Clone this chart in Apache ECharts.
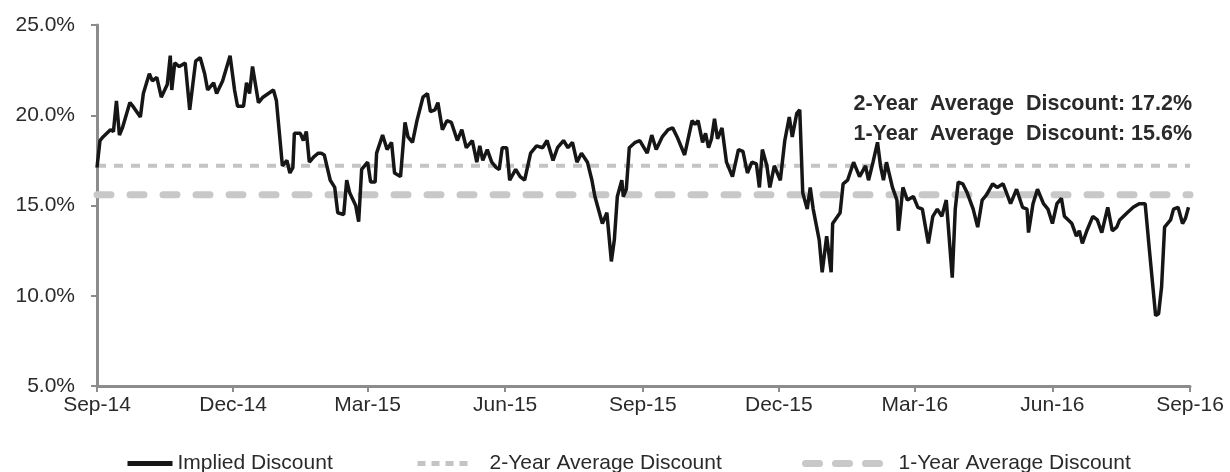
<!DOCTYPE html>
<html>
<head>
<meta charset="utf-8">
<script src="https://cdn.jsdelivr.net/npm/echarts@6/dist/echarts.min.js"></script>
<style>
  html, body { margin: 0; padding: 0; background: #fff; }
  #chart { width: 1230px; height: 472px; }
</style>
</head>
<body>
<div id="chart"></div>
<script>
// days counted from 2014-09-01
const dayOffsets = [
  0, 2, 4, 9, 11, 13, 15, 17, 22, 24, 29, 31, 35, 37, 40, 43, 47, 49, 50, 52,
  55, 59, 62, 66, 69, 72, 74, 78, 80, 84, 89, 92, 94, 98, 100, 102, 104, 107, 108, 111,
  118, 120, 124, 127, 129, 131, 132, 136, 138, 140, 142, 145, 148, 150, 152, 156, 159, 161, 165, 167,
  169, 173, 175, 177, 181, 183, 186, 187, 191, 194, 197, 199, 203, 206, 208, 211, 214, 218, 221, 223,
  226, 228, 231, 234, 237, 241, 244, 247, 251, 254, 256, 258, 261, 264, 267, 269, 271, 274, 276, 280,
  283, 286, 290, 294, 298, 301, 305, 308, 312, 315, 318, 321, 324, 328, 331, 333, 336, 338, 341, 344,
  346, 348, 351, 352, 354, 356, 360, 363, 368, 371, 374, 378, 382, 385, 388, 393, 398, 400, 402, 405,
  407, 409, 411, 413, 415, 418, 421, 425, 429, 432, 435, 438, 441, 443, 445, 448, 450, 453, 457, 460,
  463, 465, 468, 470, 472, 475, 477, 479, 483, 485, 488, 491, 492, 497, 499, 502, 506, 507, 510, 514,
  516, 519, 522, 524, 526, 528, 532, 535, 536, 539, 542, 546, 549, 552, 556, 559, 562, 565, 568, 572,
  574, 576, 579, 582, 586, 589, 592, 595, 599, 602, 606, 611, 615, 619, 622, 623, 626, 629, 633, 636,
  639, 642, 645, 647, 652, 655, 657, 659, 662, 666, 669, 672, 674, 676, 679, 682, 684, 689, 693, 697,
  701, 704, 708, 710, 712, 714, 718, 720, 723, 726, 728, 730
];
const impliedDiscount = [
  17.1, 18.6, 18.8, 19.2, 19.1, 20.8, 18.9, 19.3, 20.7, 20.5, 19.9, 21.2, 22.3, 21.9, 22.1, 21.0, 21.7, 23.3, 21.4, 22.9,
  22.7, 22.9, 20.3, 23.0, 23.2, 22.3, 21.4, 21.8, 21.2, 21.9, 23.3, 21.4, 20.5, 20.5, 21.8, 21.2, 22.7, 21.2, 20.7, 21.0,
  21.4, 20.8, 17.2, 17.5, 16.8, 17.1, 19.0, 19.0, 18.6, 19.1, 17.4, 17.7, 17.9, 17.9, 17.8, 16.4, 16.0, 14.6, 14.5, 16.4,
  15.7, 15.0, 14.1, 17.0, 17.4, 16.3, 16.3, 17.9, 18.9, 18.1, 18.5, 16.8, 16.6, 19.6, 18.8, 18.5, 19.7, 21.0, 21.2, 20.2,
  20.3, 20.7, 19.2, 19.7, 19.6, 18.6, 19.2, 18.2, 18.6, 17.4, 18.3, 17.5, 18.1, 17.4, 17.1, 17.0, 18.2, 18.2, 16.4, 17.0,
  16.6, 16.4, 17.9, 18.3, 18.2, 18.6, 17.5, 18.2, 18.6, 18.2, 18.5, 17.4, 17.9, 17.4, 16.4, 15.5, 14.6, 14.0, 14.6, 11.9,
  13.1, 15.5, 16.4, 15.5, 15.9, 18.2, 18.5, 18.6, 17.9, 18.9, 18.1, 18.8, 19.2, 19.3, 18.8, 17.8, 19.7, 19.5, 19.7, 18.5,
  19.0, 18.2, 18.7, 19.8, 18.7, 19.3, 17.4, 16.6, 18.1, 18.0, 16.8, 17.4, 17.3, 16.0, 18.1, 17.2, 16.0, 17.2, 16.4, 18.6,
  19.9, 18.8, 20.1, 20.3, 15.7, 14.8, 16.0, 14.8, 13.1, 11.3, 13.3, 11.3, 14.0, 14.6, 16.2, 16.4, 17.4, 17.4, 16.6, 17.2,
  16.4, 17.4, 18.5, 17.2, 16.4, 17.4, 16.0, 15.3, 13.6, 16.0, 15.3, 15.5, 14.9, 14.8, 12.9, 14.4, 14.8, 14.4, 15.3, 11.0,
  14.8, 16.3, 16.2, 15.7, 14.8, 13.8, 15.3, 15.6, 16.2, 16.0, 16.2, 15.1, 15.9, 14.9, 14.8, 13.5, 15.1, 15.9, 15.1, 14.8,
  14.0, 15.1, 15.4, 14.4, 14.0, 13.3, 13.6, 12.9, 13.6, 14.4, 14.2, 13.5, 14.2, 14.9, 13.6, 13.8, 14.2, 14.6, 14.9, 15.1,
  15.1, 12.4, 8.9, 9.0, 10.5, 13.8, 14.2, 14.8, 14.9, 14.0, 14.3, 14.9
];
const twoYearAverage = 17.2;
const oneYearAverage = 15.6;
// quarter ticks: [year, month index]
const tickMonths = [
  [2014, 8], [2014, 11], [2015, 2], [2015, 5], [2015, 8],
  [2015, 11], [2016, 2], [2016, 5], [2016, 8]
];
const monthNames = ["Jan", "Feb", "Mar", "Apr", "May", "Jun", "Jul", "Aug", "Sep", "Oct", "Nov", "Dec"];

const DAY = 86400000;
const startTime = Date.UTC(2014, 8, 1);
const endTime = Date.UTC(2016, 8, 1);
const tickTimes = tickMonths.map(([y, m]) => Date.UTC(y, m, 1));

const lineData = dayOffsets.map((d, i) => [startTime + d * DAY, impliedDiscount[i]]);

const axisColor = "#8c8c8c";
const textColor = "#2a2a2a";
const legendText = { fontSize: 21, color: textColor, fontFamily: "Liberation Sans" };

const myChart = echarts.init(document.getElementById("chart"));
const option = {
  animation: false,
  backgroundColor: "#fff",
  grid: { left: 97, right: 40, top: 25, bottom: 86 },
  legend: [
    {
      left: 125, top: 453, padding: 0, itemWidth: 45, itemHeight: 14,
      data: ["Implied Discount"],
      itemStyle: { opacity: 0 },
      lineStyle: { width: 5 },
      textStyle: legendText
    },
    {
      left: 415, top: 453, padding: 0, itemWidth: 55, itemHeight: 14,
      data: ["2-Year Average Discount"],
      itemStyle: { opacity: 0 },
      lineStyle: { width: 5, type: [8, 6] },
      textStyle: Object.assign({ padding: [0, 0, 0, 12] }, legendText)
    },
    {
      left: 802, top: 453, padding: 0, itemWidth: 84, itemHeight: 14,
      data: ["1-Year Average Discount"],
      itemStyle: { opacity: 0 },
      lineStyle: { width: 7, type: [14, 16], cap: "round" },
      textStyle: Object.assign({ padding: [0, 0, 0, 4] }, legendText)
    }
  ],
  // timestamps on a plain value axis, quarter starts as ticks
  xAxis: {
    type: "value",
    min: startTime,
    max: endTime,
    splitLine: { show: false },
    axisLine: { lineStyle: { color: axisColor, width: 3 } },
    axisTick: { show: true, length: 6, lineStyle: { color: axisColor, width: 2 }, customValues: tickTimes },
    axisLabel: {
      customValues: tickTimes,
      margin: 9,
      fontSize: 21,
      color: textColor,
      fontFamily: "Liberation Sans",
      hideOverlap: false,
      formatter: (v) => {
        const d = new Date(v);
        return monthNames[d.getUTCMonth()] + "-" + String(d.getUTCFullYear()).slice(2);
      }
    }
  },
  yAxis: {
    type: "value",
    min: 5,
    max: 25,
    interval: 5,
    splitLine: { show: false },
    axisLine: { show: true, lineStyle: { color: axisColor, width: 3 } },
    axisTick: { show: true, length: 6, lineStyle: { color: axisColor, width: 2 } },
    axisLabel: {
      margin: 22,
      fontSize: 21,
      color: textColor,
      fontFamily: "Liberation Sans",
      formatter: (v) => v.toFixed(1) + "%"
    }
  },
  series: [
    {
      name: "2-Year Average Discount",
      type: "line",
      symbol: "none",
      data: [[startTime, twoYearAverage], [endTime, twoYearAverage]],
      lineStyle: { color: "#c4c4c4", width: 4, type: [9, 8] },
      itemStyle: { color: "#c4c4c4" },
      z: 1
    },
    {
      name: "1-Year Average Discount",
      type: "line",
      symbol: "none",
      data: [[startTime, oneYearAverage], [endTime, oneYearAverage]],
      lineStyle: { color: "#c8c8c8", width: 7, type: [14, 19], cap: "round" },
      itemStyle: { color: "#c8c8c8" },
      z: 1
    },
    {
      name: "Implied Discount",
      type: "line",
      symbol: "none",
      data: lineData,
      lineStyle: { color: "#161616", width: 3.5 },
      itemStyle: { color: "#161616" },
      z: 3
    }
  ],
  graphic: [
    {
      type: "text",
      x: 1192, y: 104,
      style: {
        text: "2-Year  Average  Discount: " + twoYearAverage.toFixed(1) + "%",
        font: "bold 21.5px 'Liberation Sans'",
        fill: textColor,
        align: "right",
        verticalAlign: "middle"
      }
    },
    {
      type: "text",
      x: 1192, y: 134,
      style: {
        text: "1-Year  Average  Discount: " + oneYearAverage.toFixed(1) + "%",
        font: "bold 21.5px 'Liberation Sans'",
        fill: textColor,
        align: "right",
        verticalAlign: "middle"
      }
    }
  ]
};
myChart.setOption(option);
</script>
</body>
</html>
